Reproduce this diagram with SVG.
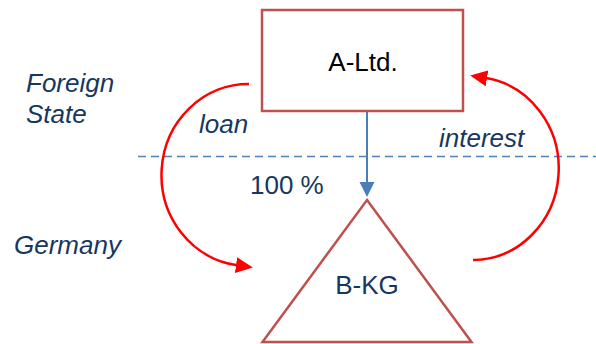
<svg xmlns="http://www.w3.org/2000/svg" width="596" height="344" viewBox="0 0 596 344">
  <style>
    .lbl { font-family: "Liberation Sans", Arial, sans-serif; font-size: 26px; fill: #17375e; }
    .it { font-style: italic; }
    .node { fill: #ffffff; stroke: #c0504d; stroke-width: 2.5; }
    .flow { fill: none; stroke: #ff0000; stroke-width: 2.5; }
  </style>
  <defs>
    <marker id="redHead" markerUnits="userSpaceOnUse" markerWidth="18" markerHeight="18" refX="1" refY="8" orient="auto" viewBox="0 0 18 16">
      <path d="M0,0 L17,8 L0,16 z" fill="#ff0000"/>
    </marker>
    <marker id="blueHead" markerUnits="userSpaceOnUse" markerWidth="16" markerHeight="16" refX="1" refY="7.5" orient="auto" viewBox="0 0 16 15">
      <path d="M0,0 L15,7.5 L0,15 z" fill="#4a7ebb"/>
    </marker>
  </defs>
  <rect width="596" height="344" fill="#ffffff"/>

  <line x1="138" y1="156.5" x2="596" y2="156.5" stroke="#4f81bd" stroke-width="1.5" stroke-dasharray="8 5"/>

  <text class="lbl it" x="26" y="92">Foreign</text>
  <text class="lbl it" x="26" y="123">State</text>
  <text class="lbl it" x="14" y="254">Germany</text>

  <g id="connectors">
    <line x1="367" y1="111" x2="367" y2="183" stroke="#4a7ebb" stroke-width="2" marker-end="url(#blueHead)"/>
    <path class="flow" d="M249,84 A87,91 0 0 0 237,265.2" marker-end="url(#redHead)"/>
    <path class="flow" d="M473,260 A86,91.5 0 0 0 486,78.1" marker-end="url(#redHead)"/>
    <text class="lbl it" x="199" y="133">loan</text>
    <text class="lbl it" x="439" y="147">interest</text>
    <text class="lbl" x="250" y="194">100 %</text>
  </g>

  <g id="a-ltd">
    <rect class="node" x="262" y="10" width="201" height="101"/>
    <text class="lbl" x="363" y="71" text-anchor="middle" style="fill:#000000">A-Ltd.</text>
  </g>

  <g id="b-kg">
    <polygon class="node" points="367,200 471.5,342 262.5,342"/>
    <text class="lbl" x="367" y="294" text-anchor="middle">B-KG</text>
  </g>
</svg>
